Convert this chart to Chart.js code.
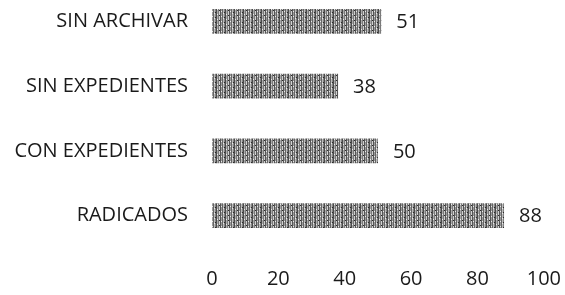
<!DOCTYPE html>
<html>
<head>
<meta charset="utf-8">
<script src="https://cdn.jsdelivr.net/npm/chart.js@4"></script>
<style>
  html, body { margin: 0; padding: 0; background: #fff; overflow: hidden; }
  #wrap { position: absolute; left: 0; top: -47px; width: 580px; height: 357px; }
</style>
</head>
<body>
<div id="wrap"><canvas id="chart"></canvas></div>
<script>
const categories = ['SIN ARCHIVAR', 'SIN EXPEDIENTES', 'CON EXPEDIENTES', 'RADICADOS'];
const values = [51, 38, 50, 88];
const xTicks = [0, 20, 40, 60, 80, 100];

const FONT = "'Open Sans', sans-serif";

// grainy grey fill, like the scanned original
function makePattern() {
    const p = document.createElement('canvas');
    p.width = 9;
    p.height = 5;
    const c = p.getContext('2d');
    const cols = ['#4a4a4a', '#a8a8a8', '#7a7a7a', '#d0d0d0', '#555555', '#9a9a9a', '#666666', '#bcbcbc', '#848484'];
    cols.forEach((col, i) => {
        c.fillStyle = col;
        c.fillRect(i, 0, 1, 5);
    });
    c.fillStyle = '#ececec';
    c.fillRect(1, 1, 1, 1);
    c.fillRect(5, 3, 1, 1);
    c.fillRect(7, 0, 1, 1);
    c.fillStyle = '#2a2a2a';
    c.fillRect(3, 2, 1, 1);
    c.fillRect(8, 4, 1, 1);
    return c.createPattern(p, 'repeat');
}

const valueLabels = {
    id: 'valueLabels',
    afterDatasetsDraw(chart) {
        const ctx = chart.ctx;
        const meta = chart.getDatasetMeta(0);
        ctx.save();
        ctx.font = '20px ' + FONT;
        ctx.fillStyle = '#1a1a1a';
        ctx.textAlign = 'left';
        ctx.textBaseline = 'middle';
        meta.data.forEach((bar, i) => {
            ctx.fillText(String(values[i]), bar.x + 15, bar.y + 1);
        });
        ctx.restore();
    }
};

new Chart(document.getElementById('chart'), {
    type: 'bar',
    data: {
        labels: categories,
        datasets: [{
            data: values,
            backgroundColor: makePattern(),
            borderWidth: 0,
            barPercentage: 0.38,
            categoryPercentage: 1
        }]
    },
    options: {
        indexAxis: 'y',
        responsive: true,
        maintainAspectRatio: false,
        animation: false,
        layout: { padding: 0 },
        plugins: {
            legend: { display: false },
            tooltip: { enabled: false }
        },
        scales: {
            x: {
                min: 0,
                max: 100,
                afterBuildTicks: scale => {
                    scale.ticks = xTicks.map(v => ({ value: v }));
                },
                grid: { display: false, drawTicks: false },
                border: { display: false },
                ticks: {
                    padding: 19,
                    color: '#1a1a1a',
                    font: { family: FONT, size: 20 },
                    maxRotation: 0
                }
            },
            y: {
                afterFit: scale => { scale.width = 212; },
                grid: { display: false, drawTicks: false },
                border: { display: false },
                ticks: {
                    padding: 24,
                    color: '#1a1a1a',
                    font: { family: FONT, size: 20 }
                }
            }
        }
    },
    plugins: [valueLabels]
});
</script>
</body>
</html>
